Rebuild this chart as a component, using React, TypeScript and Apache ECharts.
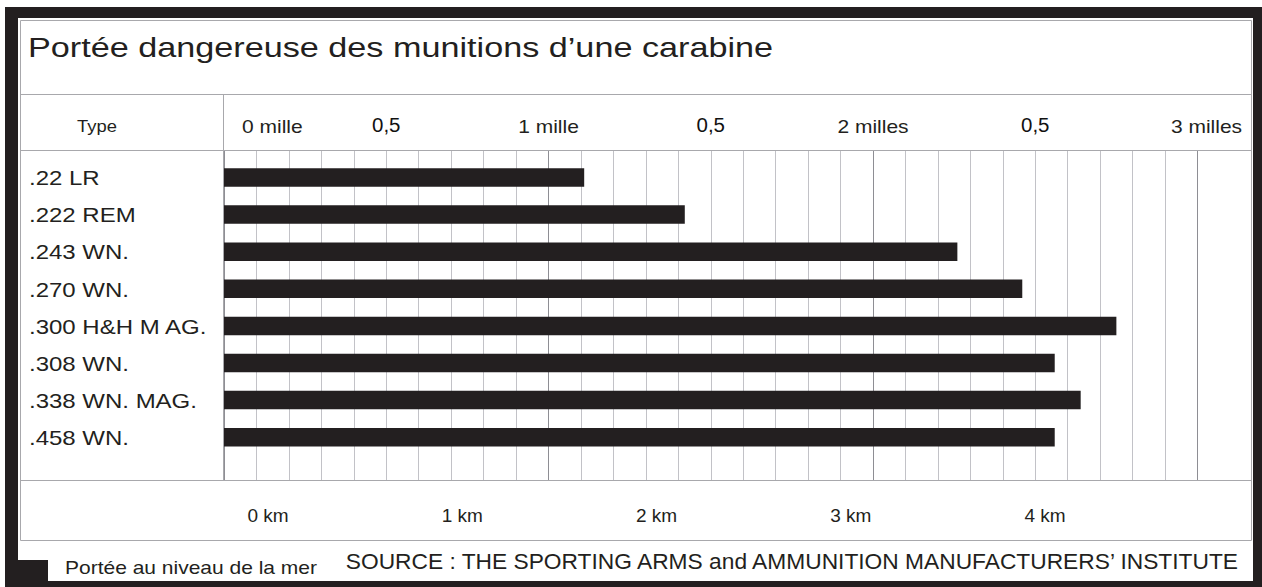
import React, { useEffect, useRef } from 'react';
import * as echarts from 'echarts';

const TITLE = 'Portée dangereuse des munitions d’une carabine';
const headerLabel = 'Type';
const categories = ['.22 LR', '.222 REM', '.243 WN.', '.270 WN.', '.300 H&H M AG.', '.308 WN.', '.338 WN. MAG.', '.458 WN.'];
const rangeMiles = [1.11, 1.42, 2.26, 2.46, 2.75, 2.56, 2.64, 2.56];
const mileTickValues = [0, 0.5, 1, 1.5, 2, 2.5, 3];
const mileTicks = ['0 mille', '0,5', '1 mille', '0,5', '2 milles', '0,5', '3 milles'];
const kmTicks = ['0 km', '1 km', '2 km', '3 km', '4 km'];
const legendLabel = 'Portée au niveau de la mer';
const sourceText = 'SOURCE : THE SPORTING ARMS and AMMUNITION MANUFACTURERS’ INSTITUTE';

export default function App() {
  const ref = useRef<HTMLDivElement>(null);
  useEffect(() => {
    const chart = echarts.init(ref.current!, null, { renderer: 'svg' });
    const FONT = '"Liberation Sans", Arial, Helvetica, sans-serif';
    const INK = '#231f20';
    const RULE = '#a8a8ac';
    const gridColors = ['#8e8e94', '#c2c2c7', '#c2c2c7', '#c2c2c7', '#c2c2c7', '#c2c2c7', '#c2c2c7', '#c2c2c7', '#c2c2c7', '#c2c2c7'];
    const plotLeft = 224;
    const plotWidth = 973.5;
    const band = 37.1;
    const firstCenter = 177.5;

    const option: any = {
      animation: false,
      backgroundColor: '#ffffff',
      textStyle: { fontFamily: FONT },
      grid: [
        { left: plotLeft, top: 150, width: plotWidth, height: 330, outerBoundsMode: 'none' },
        { left: plotLeft, top: firstCenter - band / 2, width: plotWidth, height: band * categories.length, outerBoundsMode: 'none' },
        { left: 268, top: 490, width: 777, height: 10, outerBoundsMode: 'none' },
      ],
      xAxis: [
        {
          gridIndex: 0, type: 'value', min: 0, max: 3, interval: 0.1, position: 'bottom',
          axisLine: { show: false }, axisTick: { show: false }, axisLabel: { show: false },
          splitLine: { show: true, lineStyle: { color: gridColors, width: 1 } },
        },
        {
          gridIndex: 0, type: 'value', min: 0, max: 3, interval: 0.5, position: 'top',
          axisLine: { show: false }, axisTick: { show: false }, splitLine: { show: false },
          axisLabel: { show: false },
        },
        { gridIndex: 1, type: 'value', min: 0, max: 3, show: false },
        {
          gridIndex: 2, type: 'value', min: 0, max: 4, interval: 1, position: 'bottom',
          axisLine: { show: false }, axisTick: { show: false }, splitLine: { show: false },
          axisLabel: {
            show: true, margin: 6, fontSize: 19, color: INK, fontFamily: FONT,
            showMinLabel: true, showMaxLabel: true,
            formatter: (v: number) => kmTicks[Math.round(v)] ?? '',
          },
        },
      ],
      yAxis: [
        { gridIndex: 0, type: 'value', min: 0, max: 1, show: false },
        {
          gridIndex: 1, type: 'category', data: categories, inverse: true,
          axisLine: { show: false }, axisTick: { show: false }, splitLine: { show: false },
          axisLabel: { show: false },
        },
        { gridIndex: 2, type: 'value', min: 0, max: 1, show: false },
      ],
      series: [
        {
          type: 'bar', name: legendLabel, xAxisIndex: 2, yAxisIndex: 1,
          data: rangeMiles, barWidth: 18.5,
          itemStyle: { color: INK },
          silent: true,
        },
      ],
    };
    chart.setOption(option);

    // labels placed through the library's own scales (stretched type as in the reference)
    const catTexts = categories.map((c) => {
      const y = chart.convertToPixel({ yAxisIndex: 1 }, c) as number;
      return {
        type: 'text', silent: true, x: 29, y: y + 1, scaleX: 1.2,
        style: { text: c, fontSize: 20, fontFamily: FONT, fill: INK, align: 'left', verticalAlign: 'middle' },
      };
    });
    const mileTexts = mileTickValues.map((v, i) => {
      const x = chart.convertToPixel({ xAxisIndex: 1 }, v) as number;
      const half = i % 2 === 1;
      const first = i === 0;
      const last = i === mileTickValues.length - 1;
      return {
        type: 'text', silent: true,
        x: first ? x + 18 : last ? x + 9 : x,
        y: half ? 125.5 : 127,
        scaleX: half ? 1.05 : 1.2,
        style: {
          text: mileTicks[i], fontSize: half ? 19.5 : 17.5, fontFamily: FONT, fill: half ? '#111' : INK,
          align: first ? 'left' : 'center', verticalAlign: 'middle',
        },
      };
    });

    const frame = [
      { type: 'rect', silent: true, shape: { x: 5, y: 7, width: 1257, height: 11 }, style: { fill: INK } },
      { type: 'rect', silent: true, shape: { x: 5, y: 7, width: 13, height: 580 }, style: { fill: INK } },
      { type: 'rect', silent: true, shape: { x: 1253, y: 7, width: 9, height: 580 }, style: { fill: INK } },
      { type: 'rect', silent: true, shape: { x: 5, y: 581, width: 1257, height: 6 }, style: { fill: INK } },
      { type: 'rect', silent: true, shape: { x: 20.5, y: 20.5, width: 1231, height: 520 }, style: { fill: 'none', stroke: RULE, lineWidth: 1 } },
      { type: 'line', silent: true, shape: { x1: 20, y1: 94.5, x2: 1252, y2: 94.5 }, style: { stroke: RULE, lineWidth: 1 } },
      { type: 'line', silent: true, shape: { x1: 20, y1: 150.5, x2: 1252, y2: 150.5 }, style: { stroke: RULE, lineWidth: 1 } },
      { type: 'line', silent: true, shape: { x1: 20, y1: 480.5, x2: 1252, y2: 480.5 }, style: { stroke: RULE, lineWidth: 1 } },
      { type: 'line', silent: true, shape: { x1: 223.5, y1: 94, x2: 223.5, y2: 480 }, style: { stroke: RULE, lineWidth: 1 } },
      { type: 'text', silent: true, x: 28, y: 47, scaleX: 1.2, style: { text: TITLE, fontSize: 28.5, fontFamily: FONT, fill: INK, align: 'left', verticalAlign: 'middle' } },
      { type: 'text', silent: true, x: 77, y: 126, scaleX: 1.15, style: { text: headerLabel, fontSize: 16, fontFamily: FONT, fill: INK, align: 'left', verticalAlign: 'middle' } },
      { type: 'rect', silent: true, shape: { x: 18, y: 560, width: 30, height: 22 }, style: { fill: INK } },
      { type: 'text', silent: true, x: 65, y: 568, scaleX: 1.2, style: { text: legendLabel, fontSize: 17.5, fontFamily: FONT, fill: INK, align: 'left', verticalAlign: 'middle' } },
      { type: 'text', silent: true, x: 1238, y: 562, scaleX: 1.035, style: { text: sourceText, fontSize: 22, fontFamily: FONT, fill: INK, align: 'right', verticalAlign: 'middle' } },
    ];

    chart.setOption({ graphic: [...frame, ...catTexts, ...mileTexts] });
    return () => chart.dispose();
  }, []);
  return <div ref={ref} style={{ position: 'absolute', left: 0, top: 0, width: 1262, height: 587 }} />;
}
